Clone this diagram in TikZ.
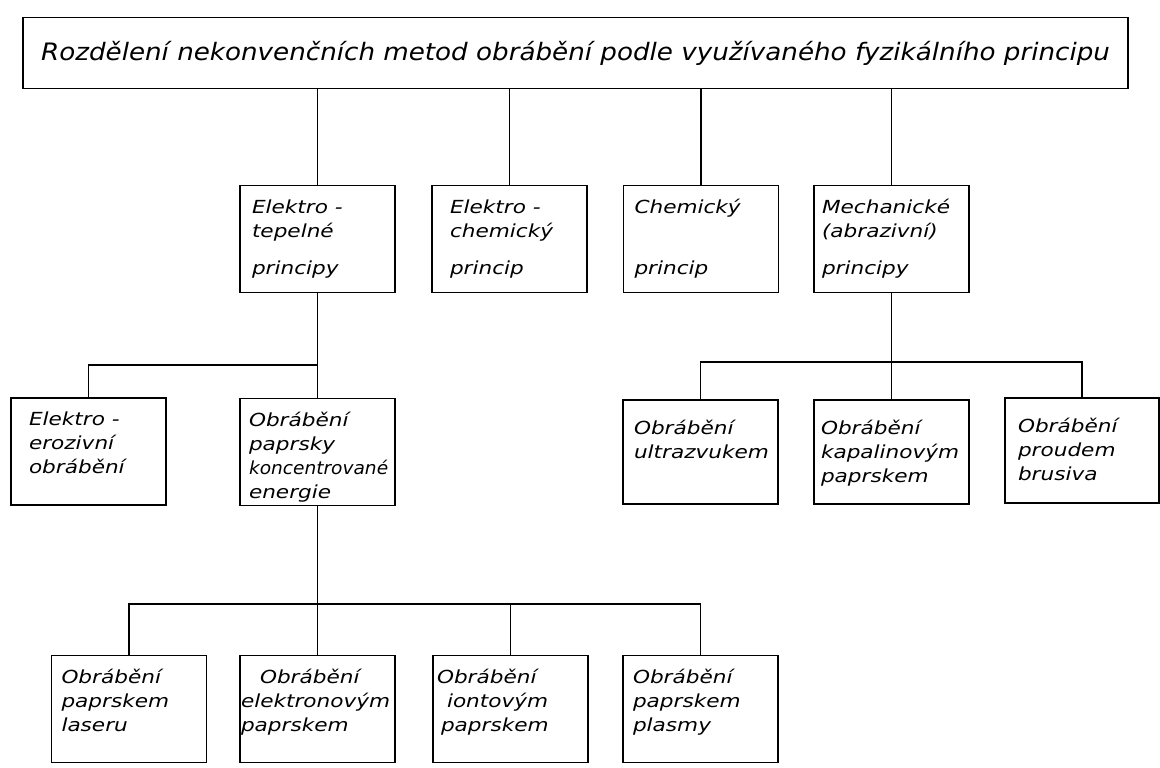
\documentclass[tikz,border=0pt]{standalone}
\usepackage{fontspec}
\usepackage{graphicx}
\setmainfont{DejaVu Sans}
\newfontfamily\handfont[FakeStretch=1.2]{DejaVu Sans}
\newfontfamily\headfont[FakeStretch=1.09]{DejaVu Sans}

\begin{document}
\begin{tikzpicture}[x=1pt, y=-1pt, line width=1.1pt,
    box/.style={draw, minimum width=155pt, minimum height=107pt, inner sep=0pt},
    lbl/.style={anchor=north west, xshift=11pt, yshift=-14pt, inner sep=0pt, align=left,
      font=\handfont\fontsize{18}{24}\selectfont\itshape}]
    \useasboundingbox (0,0) rectangle (1160,768);
    \node[draw, minimum width=1105pt, minimum height=71pt, font=\headfont\fontsize{24}{30}\selectfont\itshape] (top) at (575.5,53) {Rozdělení nekonvenčních metod obrábění podle využívaného fyzikálního principu};

    \node[box] (eltep) at (317.5,239) {};
    \node[box] (elchem) at (509.5,239) {};
    \node[box] (chem) at (701,239) {};
    \node[box] (mech) at (891.5,239) {};
    \node[lbl, xshift=1pt] (eltep-t) at (eltep.north west) {Elektro -\\tepelné\\[13pt]principy};
    \node[lbl, xshift=7pt] (elchem-t) at (elchem.north west) {Elektro -\\chemický\\[13pt]princip};
    \node[lbl] (chem-t) at (chem.north west) {Chemický\\[37pt]princip};
    \node[lbl, xshift=-3pt] (mech-t) at (mech.north west) {Mechanické\\(abrazivní)\\[13pt]principy};

    \node[box] (eroz) at (88.5,451.5) {};
    \node[box] (paprsky) at (317.5,452) {};
    \node[box, minimum height=104pt] (ultra) at (700.5,452) {};
    \node[box, minimum height=104pt] (kapal) at (891.5,452) {};
    \node[box, minimum width=154pt, minimum height=105pt] (brus) at (1082,450.5) {};
    \node[lbl, xshift=7pt] (eroz-t) at (eroz.north west) {Elektro -\\erozivní\\obrábění};
    \node[lbl, xshift=-2pt] (paprsky-t) at (paprsky.north west) {Obrábění\\paprsky\\\scalebox{0.86}[1]{koncentrované}\\energie};
    \node[lbl, yshift=-6pt] (ultra-t) at (ultra.north west) {Obrábění\\ultrazvukem};
    \node[lbl, xshift=-4pt, yshift=-6pt] (kapal-t) at (kapal.north west) {Obrábění\\kapalinovým\\paprskem};
    \node[lbl, xshift=2pt, yshift=-6pt] (brus-t) at (brus.north west) {Obrábění\\proudem\\brusiva};

    \node[box] (laser) at (129,709) {};
    \node[box] (elektron) at (317.5,709) {};
    \node[box] (iont) at (510.5,709) {};
    \node[box] (plasma) at (700.5,709) {};
    \node[lbl, xshift=-1pt] (laser-t) at (laser.north west) {Obrábění\\paprskem\\laseru};
    \node[lbl, xshift=-10pt] (elektron-t) at (elektron.north west) {\hspace{19pt}Obrábění\\elektronovým\\paprskem};
    \node[lbl, xshift=-7pt] (iont-t) at (iont.north west) {Obrábění\\\hspace{10pt}iontovým\\\hspace{4pt}paprskem};
    \node[lbl, xshift=-1pt] (plasma-t) at (plasma.north west) {Obrábění\\paprskem\\plasmy};

    % connectors
    \draw (eltep.north) -- (eltep.north |- top.south);
    \draw (elchem.north) -- (elchem.north |- top.south);
    \draw (chem.north) -- (chem.north |- top.south);
    \draw (mech.north) -- (mech.north |- top.south);

    \coordinate (j1) at (317.5,365);
    \draw (eltep.south) -- (paprsky.north);
    \draw (eroz.north) |- (j1);

    \coordinate (j2) at (891.5,362);
    \draw (mech.south) -- (kapal.north);
    \draw (ultra.north) |- (j2) -| (brus.north);

    \coordinate (j3) at (317.5,604);
    \draw (paprsky.south) -- (elektron.north);
    \draw (laser.north) |- (j3) -| (plasma.north);
    \draw (iont.north) -- (iont.north |- j3);
\end{tikzpicture}
\end{document}
